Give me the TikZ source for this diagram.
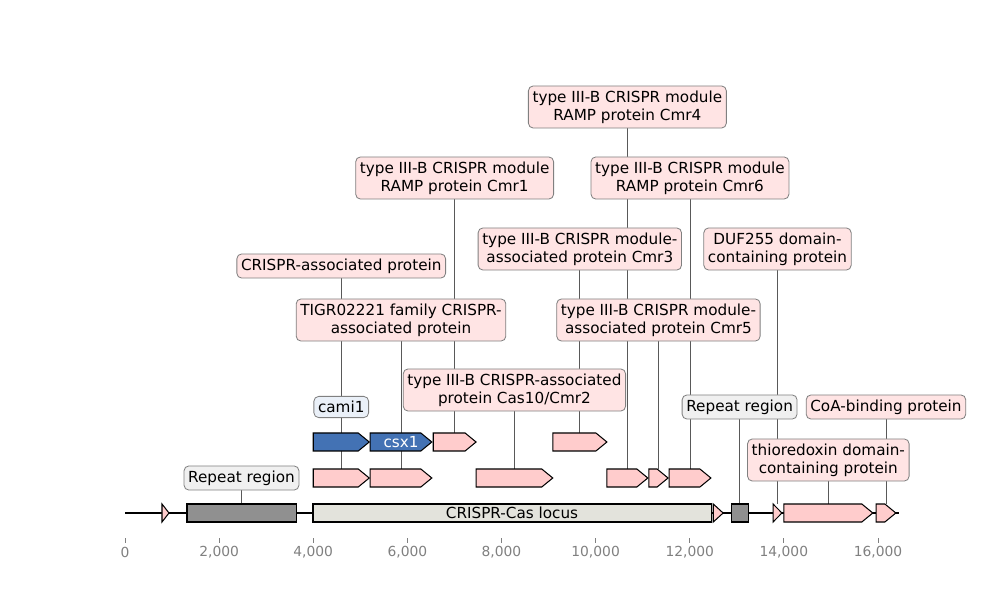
\documentclass[tikz,border=0pt]{standalone}
\usepackage{fontspec}
\setmainfont{DejaVu Sans}
\usetikzlibrary{backgrounds}

\definecolor{genepink}{HTML}{FFCCCC}
\definecolor{geneblue}{HTML}{4372B4}
\definecolor{repeatgray}{HTML}{909090}
\definecolor{locusgray}{HTML}{E3E3DC}
\definecolor{tagpink}{HTML}{FFE4E4}
\definecolor{taggray}{HTML}{F0F0F0}
\definecolor{tagblue}{HTML}{EAF0F8}
\definecolor{tickgray}{HTML}{808080}

% a feature on the map: name, start (kb), end (kb), row centre (px), style
\newcommand{\gene}[5]{%
  \pgfmathsetmacro{\xa}{125+47.06*#2}%
  \pgfmathsetmacro{\xb}{125+47.06*#3}%
  \pgfmathsetmacro{\xh}{max(\xa,\xb-11)}%
  \draw[genebox,#5] (\xa,#4-9) -- (\xh,#4-9) -- (\xb,#4) -- (\xh,#4+9) -- (\xa,#4+9) -- cycle;
  \coordinate (#1) at ({(\xa+\xb)/2},#4-9);
}
\newcommand{\region}[5]{%
  \pgfmathsetmacro{\xa}{125+47.06*#2}%
  \pgfmathsetmacro{\xb}{125+47.06*#3}%
  \draw[genebox,#5] (\xa,#4-9) rectangle (\xb,#4+9);
  \coordinate (#1) at ({(\xa+\xb)/2},#4-9);
}

\begin{document}
\begin{tikzpicture}[x=0.01in,y=-0.01in]

\tikzset{
  genebox/.style={draw=black, line width=0.75pt, line join=miter, fill=genepink},
  bluegene/.style={fill=geneblue},
  repeatbox/.style={fill=repeatgray},
  locusbox/.style={fill=locusgray},
  tag/.style={draw=gray, line width=0.6pt, rounded corners=3.5pt, fill=tagpink,
    align=center, inner xsep=3pt, inner ysep=3.4pt, font=\fontsize{11}{13}\selectfont},
  graytag/.style={tag, fill=taggray},
  bluetag/.style={tag, fill=tagblue},
  pin/.style={draw=black!65, line width=0.5pt},
  ticklabel/.style={font=\fontsize{10}{12}\selectfont, text=tickgray}
}

\useasboundingbox (0,0) rectangle (1000,600);

% backbone
\coordinate (left) at (125,513);
\coordinate (right) at (899,513);
\draw[line width=1.1pt] (left) -- (right);

% main track
\gene{m1}{0.786}{0.935}{513}{}
\region{rep1}{1.317}{3.634}{513}{repeatbox}
\region{locus}{3.995}{12.46}{513}{locusbox}
\gene{m2}{12.50}{12.71}{513}{}
\region{rep2}{12.88}{13.24}{513}{repeatbox}
\gene{m3}{13.77}{13.96}{513}{}
\gene{m4}{14.00}{15.89}{513}{}
\gene{m5}{15.96}{16.38}{513}{}
\node[font=\fontsize{11}{13}\selectfont] (locustext) at (512,513) {CRISPR-Cas locus};

% first row
\gene{a1}{4.00}{5.19}{478}{}
\gene{a2}{5.21}{6.52}{478}{}
\gene{a3}{7.46}{9.09}{478}{}
\gene{a4}{10.24}{11.11}{478}{}
\gene{a5}{11.13}{11.54}{478}{}
\gene{a6}{11.56}{12.45}{478}{}

% second row
\gene{b1}{4.00}{5.19}{442}{bluegene}
\gene{b2}{5.21}{6.52}{442}{bluegene}
\gene{b3}{6.55}{7.46}{442}{}
\gene{b4}{9.09}{10.24}{442}{}
\node[font=\fontsize{11}{13}\selectfont, text=white] (csx) at (401,442) {csx1};

% labels
\node[tag] (cmr4) at (a4 |- 0,107) {type III-B CRISPR module\\RAMP protein Cmr4};
\node[tag] (cmr1) at (b3 |- 0,178) {type III-B CRISPR module\\RAMP protein Cmr1};
\node[tag] (cmr6) at (a6 |- 0,178) {type III-B CRISPR module\\RAMP protein Cmr6};
\node[tag] (cmr3) at (b4 |- 0,249) {type III-B CRISPR module-\\associated protein Cmr3};
\node[tag] (duf) at (m3 |- 0,249) {DUF255 domain-\\containing protein};
\node[tag] (casp) at (a1 |- 0,266) {CRISPR-associated protein};
\node[tag] (tigr) at (a2 |- 0,320) {TIGR02221 family CRISPR-\\associated protein};
\node[tag] (cmr5) at (a5 |- 0,320) {type III-B CRISPR module-\\associated protein Cmr5};
\node[tag] (cas10) at (a3 |- 0,390) {type III-B CRISPR-associated\\protein Cas10/Cmr2};
\node[bluetag] (cami) at (b1 |- 0,407) {cami1};
\node[graytag] (repR) at (rep2 |- 0,407) {Repeat region};
\node[tag] (coa) at (m5 |- 0,407) {CoA-binding protein};
\node[tag] (thio) at (m4 |- 0,460) {thioredoxin domain-\\containing protein};
\node[graytag] (repL) at (rep1 |- 0,478) {Repeat region};

% leader lines behind everything
\begin{scope}[on background layer]
  \draw[pin] (cmr4) -- (a4);
  \draw[pin] (cmr1) -- (b3);
  \draw[pin] (cmr6) -- (a6);
  \draw[pin] (cmr3) -- (b4);
  \draw[pin] (duf) -- (m3);
  \draw[pin] (casp) -- (a1);
  \draw[pin] (tigr) -- (a2);
  \draw[pin] (cmr5) -- (a5);
  \draw[pin] (cas10) -- (a3);
  \draw[pin] (cami) -- (b1);
  \draw[pin] (repR) -- (rep2);
  \draw[pin] (coa) -- (m5);
  \draw[pin] (thio) -- (m4);
  \draw[pin] (repL) -- (rep1);
\end{scope}

% scale
\foreach \t/\lab in {0/0, 2/{2,000}, 4/{4,000}, 6/{6,000}, 8/{8,000}, 10/{10,000}, 12/{12,000}, 14/{14,000}, 16/{16,000}} {
  \coordinate (tk\t) at ({125+47.06*\t},538);
  \draw[tickgray, line width=0.6pt] (tk\t) -- ++(0,5);
  \node[ticklabel] (tl\t) at ({125+47.06*\t},552) {\lab};
}

\end{tikzpicture}
\end{document}
